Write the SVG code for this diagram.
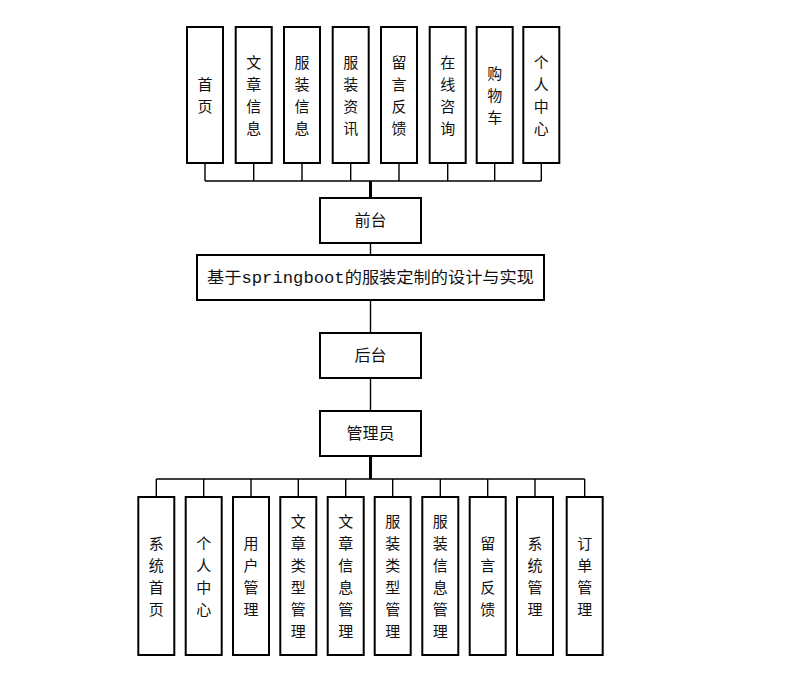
<svg xmlns="http://www.w3.org/2000/svg" width="805" height="675" viewBox="0 0 805 675">
<style>
.box{fill:#fff;stroke:#000;stroke-width:2}
.t{font-family:"Noto Sans CJK SC","Liberation Serif",sans-serif;font-size:16px;fill:#111;text-anchor:middle}
.v{font-size:15px}
.ln{stroke:#000;stroke-width:1.4;fill:none}
.tk{stroke:#000;stroke-width:3;fill:none}
</style>
<rect width="805" height="675" fill="#fff"/>
<g id="connectors">
<path class="ln" d="M205,163V181M253.7,163V181M302,163V181M350.7,163V181M399,163V181M447.7,163V181M494.7,163V181M541.3,163V181M205,181H541.3"/>
<path class="tk" d="M370.5,181V198"/>
<path class="ln" d="M370.5,243V255M370.5,300V333M370.5,378V411"/>
<path class="tk" d="M370.5,456V479"/>
<path class="ln" d="M156.3,479H584.7M156.3,479V497M203.7,479V497M251,479V497M298.3,479V497M345.7,479V497M392.7,479V497M440.3,479V497M487.7,479V497M535,479V497M584.7,479V497"/>
</g>
<g id="n-shouye"><rect class="box" x="187" y="27" width="36" height="136"/><text class="t v"><tspan x="205" y="89.7">首</tspan><tspan x="205" dy="22">页</tspan></text></g>
<g id="n-wenzhang"><rect class="box" x="235.7" y="27" width="36" height="136"/><text class="t v"><tspan x="253.7" y="67.7">文</tspan><tspan x="253.7" dy="22">章</tspan><tspan x="253.7" dy="22">信</tspan><tspan x="253.7" dy="22">息</tspan></text></g>
<g id="n-fuzhuang"><rect class="box" x="284" y="27" width="36" height="136"/><text class="t v"><tspan x="302" y="67.7">服</tspan><tspan x="302" dy="22">装</tspan><tspan x="302" dy="22">信</tspan><tspan x="302" dy="22">息</tspan></text></g>
<g id="n-zixun"><rect class="box" x="332.7" y="27" width="36" height="136"/><text class="t v"><tspan x="350.7" y="67.7">服</tspan><tspan x="350.7" dy="22">装</tspan><tspan x="350.7" dy="22">资</tspan><tspan x="350.7" dy="22">讯</tspan></text></g>
<g id="n-liuyan"><rect class="box" x="381" y="27" width="36" height="136"/><text class="t v"><tspan x="399" y="67.7">留</tspan><tspan x="399" dy="22">言</tspan><tspan x="399" dy="22">反</tspan><tspan x="399" dy="22">馈</tspan></text></g>
<g id="n-zaixian"><rect class="box" x="429.7" y="27" width="36" height="136"/><text class="t v"><tspan x="447.7" y="67.7">在</tspan><tspan x="447.7" dy="22">线</tspan><tspan x="447.7" dy="22">咨</tspan><tspan x="447.7" dy="22">询</tspan></text></g>
<g id="n-gouwuche"><rect class="box" x="476.7" y="27" width="36" height="136"/><text class="t v"><tspan x="494.7" y="78.7">购</tspan><tspan x="494.7" dy="22">物</tspan><tspan x="494.7" dy="22">车</tspan></text></g>
<g id="n-geren"><rect class="box" x="523.3" y="27" width="36" height="136"/><text class="t v"><tspan x="541.3" y="67.7">个</tspan><tspan x="541.3" dy="22">人</tspan><tspan x="541.3" dy="22">中</tspan><tspan x="541.3" dy="22">心</tspan></text></g>
<g id="n-qiantai"><rect class="box" x="320" y="198" width="101" height="45"/><text class="t" x="370.5" y="226">前台</text></g>
<g id="n-title"><rect class="box" x="197" y="255" width="347" height="45"/><text class="t" x="370.5" y="283" textLength="327" lengthAdjust="spacingAndGlyphs">基于<tspan font-family="Liberation Mono, monospace">springboot</tspan>的服装定制的设计与实现</text></g>
<g id="n-houtai"><rect class="box" x="320" y="333" width="101" height="45"/><text class="t" x="370.5" y="361">后台</text></g>
<g id="n-admin"><rect class="box" x="320" y="411" width="101" height="45"/><text class="t" x="370.5" y="439">管理员</text></g>
<g id="b1"><rect class="box" x="138.3" y="497" width="36" height="158"/><text class="t v"><tspan x="156.3" y="548.7">系</tspan><tspan x="156.3" dy="22">统</tspan><tspan x="156.3" dy="22">首</tspan><tspan x="156.3" dy="22">页</tspan></text></g>
<g id="b2"><rect class="box" x="185.7" y="497" width="36" height="158"/><text class="t v"><tspan x="203.7" y="548.7">个</tspan><tspan x="203.7" dy="22">人</tspan><tspan x="203.7" dy="22">中</tspan><tspan x="203.7" dy="22">心</tspan></text></g>
<g id="b3"><rect class="box" x="233" y="497" width="36" height="158"/><text class="t v"><tspan x="251" y="548.7">用</tspan><tspan x="251" dy="22">户</tspan><tspan x="251" dy="22">管</tspan><tspan x="251" dy="22">理</tspan></text></g>
<g id="b4"><rect class="box" x="280.3" y="497" width="36" height="158"/><text class="t v"><tspan x="298.3" y="526.7">文</tspan><tspan x="298.3" dy="22">章</tspan><tspan x="298.3" dy="22">类</tspan><tspan x="298.3" dy="22">型</tspan><tspan x="298.3" dy="22">管</tspan><tspan x="298.3" dy="22">理</tspan></text></g>
<g id="b5"><rect class="box" x="327.7" y="497" width="36" height="158"/><text class="t v"><tspan x="345.7" y="526.7">文</tspan><tspan x="345.7" dy="22">章</tspan><tspan x="345.7" dy="22">信</tspan><tspan x="345.7" dy="22">息</tspan><tspan x="345.7" dy="22">管</tspan><tspan x="345.7" dy="22">理</tspan></text></g>
<g id="b6"><rect class="box" x="374.7" y="497" width="36" height="158"/><text class="t v"><tspan x="392.7" y="526.7">服</tspan><tspan x="392.7" dy="22">装</tspan><tspan x="392.7" dy="22">类</tspan><tspan x="392.7" dy="22">型</tspan><tspan x="392.7" dy="22">管</tspan><tspan x="392.7" dy="22">理</tspan></text></g>
<g id="b7"><rect class="box" x="422.3" y="497" width="36" height="158"/><text class="t v"><tspan x="440.3" y="526.7">服</tspan><tspan x="440.3" dy="22">装</tspan><tspan x="440.3" dy="22">信</tspan><tspan x="440.3" dy="22">息</tspan><tspan x="440.3" dy="22">管</tspan><tspan x="440.3" dy="22">理</tspan></text></g>
<g id="b8"><rect class="box" x="469.7" y="497" width="36" height="158"/><text class="t v"><tspan x="487.7" y="548.7">留</tspan><tspan x="487.7" dy="22">言</tspan><tspan x="487.7" dy="22">反</tspan><tspan x="487.7" dy="22">馈</tspan></text></g>
<g id="b9"><rect class="box" x="517" y="497" width="36" height="158"/><text class="t v"><tspan x="535" y="548.7">系</tspan><tspan x="535" dy="22">统</tspan><tspan x="535" dy="22">管</tspan><tspan x="535" dy="22">理</tspan></text></g>
<g id="b10"><rect class="box" x="566.7" y="497" width="36" height="158"/><text class="t v"><tspan x="584.7" y="548.7">订</tspan><tspan x="584.7" dy="22">单</tspan><tspan x="584.7" dy="22">管</tspan><tspan x="584.7" dy="22">理</tspan></text></g>
</svg>
